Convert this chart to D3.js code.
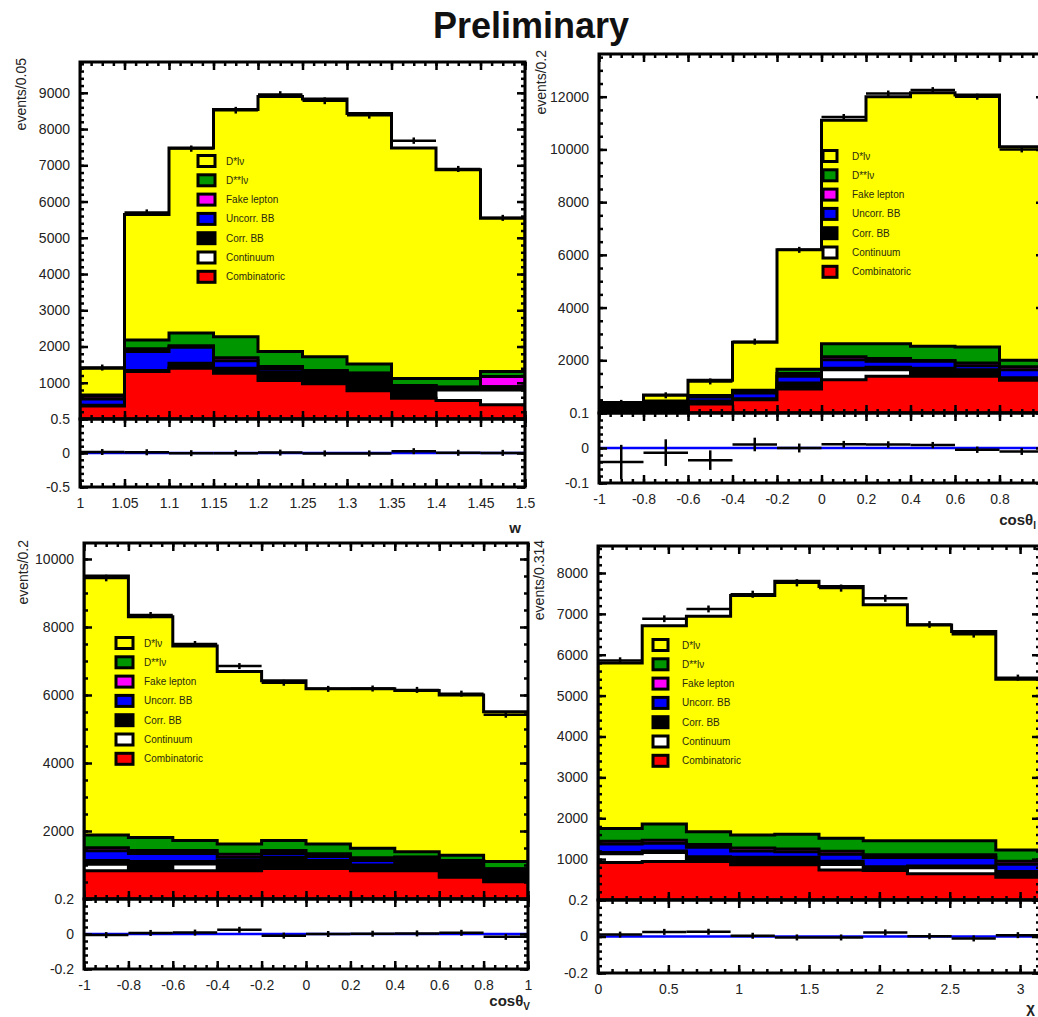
<!DOCTYPE html>
<html>
<head>
<meta charset="utf-8">
<script src="https://cdn.jsdelivr.net/npm/d3@7/dist/d3.min.js"></script>
<style>
  body { margin: 0; background: #fff; }
  svg { display: block; }
  text { font-family: "Liberation Sans", Arial, Helvetica, sans-serif; }
</style>
</head>
<body>
<svg id="chart" width="1038" height="1017"></svg>
<script>
// Stack components, bottom of the stack first
const components = ["comb", "cont", "corr", "uncorr", "fake", "dss", "ds"];
// Legend entries, top to bottom
const legendLabels = ["D*lν", "D**lν", "Fake lepton", "Uncorr. BB", "Corr. BB", "Continuum", "Combinatoric"];
const legendKeys = ["ds", "dss", "fake", "uncorr", "corr", "cont", "comb"];

// ---- w ----
const wEdges = [1.00, 1.05, 1.10, 1.15, 1.20, 1.25, 1.30, 1.35, 1.40, 1.45, 1.50];
const wTicks = [1, 1.05, 1.1, 1.15, 1.2, 1.25, 1.3, 1.35, 1.4, 1.45, 1.5];
const wYTicks = [1000, 2000, 3000, 4000, 5000, 6000, 7000, 8000, 9000];
const wComb   = [360, 1310, 1400, 1260, 1060, 970, 780, 570, 510, 390];
const wCont   = [0, 0, 0, 0, 0, 0, 0, 0, 290, 410];
const wCorr   = [20, 30, 140, 140, 220, 370, 480, 350, 75, 90];
const wUncorr = [170, 520, 440, 210, 90, 0, 0, 0, 0, 0];
const wFake   = [80, 80, 40, 80, 80, 0, 0, 0, 0, 280];
const wDss    = [30, 240, 350, 580, 410, 380, 260, 200, 245, 140];
const wDs     = [740, 3460, 5110, 6270, 7040, 7110, 6910, 6360, 5760, 4230];
const wData   = [1420, 5700, 7460, 8520, 8950, 8780, 8380, 7680, 6900, 5550];

// ---- cos theta_l ----
const clEdges = [-1, -0.8, -0.6, -0.4, -0.2, 0, 0.2, 0.4, 0.6, 0.8, 1];
const clTicks = [-1, -0.8, -0.6, -0.4, -0.2, 0, 0.2, 0.4, 0.6, 0.8, 1];
const clTickLabels = ["-1", "-0.8", "-0.6", "-0.4", "-0.2", "0", "0.2", "0.4", "0.6", "0.8", ""];
const clYTicks = [2000, 4000, 6000, 8000, 10000, 12000];
const clComb   = [60, 40, 340, 505, 910, 1260, 1390, 1390, 1390, 1240];
const clCont   = [0, 0, 0, 0, 0, 380, 250, 0, 0, 0];
const clCorr   = [220, 300, 115, 35, 230, 60, 100, 310, 250, 100];
const clUncorr = [40, 60, 150, 220, 250, 320, 220, 260, 150, 300];
const clFake   = [20, 30, 40, 60, 110, 110, 110, 30, 110, 110];
const clDss    = [20, 25, 20, 40, 160, 500, 560, 540, 600, 250];
const clDs     = [40, 225, 575, 1820, 4530, 8480, 9370, 9620, 9560, 8100];
const clData   = [384, 671, 1197, 2707, 6190, 11230, 12120, 12250, 12000, 10000];

// ---- cos theta_V ----
const cvEdges = [-1, -0.8, -0.6, -0.4, -0.2, 0, 0.2, 0.4, 0.6, 0.8, 1];
const cvTicks = [-1, -0.8, -0.6, -0.4, -0.2, 0, 0.2, 0.4, 0.6, 0.8, 1];
const cvTickLabels = ["-1", "-0.8", "-0.6", "-0.4", "-0.2", "0", "0.2", "0.4", "0.6", "0.8", "1"];
const cvYTicks = [2000, 4000, 6000, 8000, 10000];
const cvComb   = [830, 830, 830, 830, 900, 900, 830, 830, 640, 510];
const cvCont   = [190, 0, 200, 0, 0, 0, 0, 0, 0, 0];
const cvCorr   = [110, 270, 70, 300, 330, 230, 170, 400, 490, 370];
const cvUncorr = [290, 240, 240, 100, 110, 120, 130, 0, 0, 0];
const cvFake   = [85, 85, 85, 85, 85, 80, 85, 0, 0, 0];
const cvDss    = [375, 385, 295, 305, 295, 290, 275, 160, 160, 220];
const cvDs     = [7620, 6490, 5720, 5070, 4700, 4560, 4690, 4740, 4710, 4410];
const cvData   = [9440, 8350, 7500, 6850, 6360, 6180, 6190, 6150, 6040, 5420];

// ---- chi ----
const chEdges = d3.range(11).map(i => i * Math.PI / 10);
const chiTicks = [0, 0.5, 1, 1.5, 2, 2.5, 3];
const chiTickLabels = ["0", "0.5", "1", "1.5", "2", "2.5", "3"];
const chYTicks = [1000, 2000, 3000, 4000, 5000, 6000, 7000, 8000];
const chComb   = [915, 940, 940, 860, 860, 735, 720, 640, 640, 555];
const chCont   = [215, 220, 0, 0, 0, 135, 0, 150, 150, 0];
const chCorr   = [30, 40, 120, 185, 185, 80, 95, 40, 40, 140];
const chUncorr = [210, 190, 230, 155, 135, 170, 225, 210, 210, 180];
const chFake   = [70, 70, 70, 70, 70, 70, 70, 70, 70, 70];
const chDss    = [310, 400, 310, 320, 360, 320, 340, 340, 340, 280];
const chDs     = [4050, 4850, 5270, 5860, 6190, 6160, 5770, 5280, 5120, 4175];
const chData   = [5860, 6880, 7120, 7480, 7760, 7630, 7380, 6740, 6500, 5440];

const wTickLabels = ["1", "1.05", "1.1", "1.15", "1.2", "1.25", "1.3", "1.35", "1.4", "1.45", "1.5"];

// Residual axis ticks and labels
const ratioTicksW   = [-0.5, 0, 0.5];
const ratioLabelsW  = ["-0.5", "0", "0.5"];
const ratioTicksCl  = [-0.1, 0, 0.1];
const ratioLabelsCl = ["-0.1", "0", "0.1"];
const ratioTicksCv  = [-0.2, 0, 0.2];
const ratioLabelsCv = ["-0.2", "0", "0.2"];
const ratioTicksChi = [-0.2, 0, 0.2];
const ratioLabelsChi = ["-0.2", "0", "0.2"];

const fillColor = {
  comb: "#ff0000", cont: "#ffffff", corr: "#000000", uncorr: "#0000ff",
  fake: "#ff00ff", dss: "#009600", ds: "#ffff00"
};

const panels = [
  {
    edges: wEdges, series: [wComb, wCont, wCorr, wUncorr, wFake, wDss, wDs], data: wData,
    xTicks: wTicks, xLabels: wTickLabels, xMinor: 0.0125, yTicks: wYTicks, yMinor: 200,
    ratioTicks: ratioTicksW, ratioLabels: ratioLabelsW, ratioMinor: 0.1,
    x0: 80, x1: 525, top: 62, mid: 419, bot: 487, ymax: 9850,
    legend: { sx: 198, sw: 17, y0: 161, tx: 226 },
    yTitle: "events/0.05", yTitleX: 26, yTitleY: 58,
    xTitle: "w", xTitleSub: "", xTitleX: 521, xTitleY: 533
  },
  {
    edges: clEdges, series: [clComb, clCont, clCorr, clUncorr, clFake, clDss, clDs], data: clData,
    xTicks: clTicks, xLabels: clTickLabels, xMinor: 0.05, yTicks: clYTicks, yMinor: 500,
    ratioTicks: ratioTicksCl, ratioLabels: ratioLabelsCl, ratioMinor: 0.02,
    x0: 599, x1: 1044, top: 54, mid: 413, bot: 483, ymax: 13620,
    legend: { sx: 823, sw: 14, y0: 156, tx: 852 },
    yTitle: "events/0.2", yTitleX: 546, yTitleY: 50,
    xTitle: "cosθ", xTitleSub: "l", xTitleX: 1036, xTitleY: 525
  },
  {
    edges: cvEdges, series: [cvComb, cvCont, cvCorr, cvUncorr, cvFake, cvDss, cvDs], data: cvData,
    xTicks: cvTicks, xLabels: cvTickLabels, xMinor: 0.05, yTicks: cvYTicks, yMinor: 500,
    ratioTicks: ratioTicksCv, ratioLabels: ratioLabelsCv, ratioMinor: 0.04,
    x0: 84, x1: 528, top: 543, mid: 899, bot: 969, ymax: 10470,
    legend: { sx: 116, sw: 17, y0: 643, tx: 144 },
    yTitle: "events/0.2", yTitleX: 28, yTitleY: 540,
    xTitle: "cosθ", xTitleSub: "V", xTitleX: 530, xTitleY: 1006
  },
  {
    edges: chEdges, series: [chComb, chCont, chCorr, chUncorr, chFake, chDss, chDs], data: chData,
    xTicks: chiTicks, xLabels: chiTickLabels, xMinor: 0.1, yTicks: chYTicks, yMinor: 200,
    ratioTicks: ratioTicksChi, ratioLabels: ratioLabelsChi, ratioMinor: 0.04,
    x0: 598, x1: 1040, top: 546, mid: 900, bot: 973, ymax: 8660,
    legend: { sx: 653, sw: 15, y0: 645, tx: 682 },
    yTitle: "events/0.314", yTitleX: 544, yTitleY: 540,
    xTitle: "χ", xTitleSub: "", xTitleX: 1035, xTitleY: 1013
  }
];

const svg = d3.select("#chart");

svg.append("text")
  .attr("x", 531).attr("y", 38)
  .attr("text-anchor", "middle")
  .attr("font-size", 36).attr("font-weight", "bold")
  .attr("fill", "#111")
  .text("Preliminary");

const labelFormatter = (values, labels) => d => {
  const i = values.findIndex(v => Math.abs(v - d) < 1e-9);
  return i >= 0 ? labels[i] : "";
};

function drawTicks(g, axisGen, scale, values, size, fmt, pad) {
  const a = axisGen(scale).tickValues(values).tickSize(-size).tickPadding(pad)
    .tickFormat(fmt || "");
  const ag = g.append("g").call(a);
  ag.select(".domain").remove();
  ag.selectAll(".tick line").attr("stroke", "#000").attr("stroke-width", 2.5);
  ag.selectAll(".tick text")
    .attr("font-size", 14).attr("fill", "#222")
    .attr("font-family", "'Liberation Sans', Arial, sans-serif");
  return ag;
}

function minorValues(domain, step) {
  const lo = Math.min(domain[0], domain[1]), hi = Math.max(domain[0], domain[1]);
  const out = [];
  for (let v = Math.ceil(lo / step - 1e-9) * step; v <= hi + 1e-9; v += step) out.push(+v.toFixed(6));
  return out;
}

panels.forEach((p, pi) => {
  const g = svg.append("g");
  const nb = p.edges.length - 1;
  const x = d3.scaleLinear().domain([p.edges[0], p.edges[nb]]).range([p.x0, p.x1]);
  const y = d3.scaleLinear().domain([0, p.ymax]).range([p.mid, p.top]);
  const rmax = p.ratioTicks[2];
  const yr = d3.scaleLinear().domain([-rmax, rmax]).range([p.bot, p.mid]);

  const clipId = "clip" + pi;
  g.append("clipPath").attr("id", clipId)
    .append("rect").attr("x", p.x0).attr("y", p.top).attr("width", p.x1 - p.x0).attr("height", p.mid - p.top);
  const clipR = "clipr" + pi;
  g.append("clipPath").attr("id", clipR)
    .append("rect").attr("x", p.x0).attr("y", p.mid).attr("width", p.x1 - p.x0).attr("height", p.bot - p.mid);

  // stacked histogram, each cumulative layer filled from zero with its own outline
  const rows = d3.range(nb).map(i => {
    const r = {};
    components.forEach((k, j) => { r[k] = p.series[j][i]; });
    return r;
  });
  const stacked = d3.stack().keys(components)(rows);
  const line = d3.line().x(d => x(d[0])).y(d => y(d[1]));

  const hg = g.append("g").attr("clip-path", `url(#${clipId})`);
  for (let j = components.length - 1; j >= 0; j--) {
    const tops = stacked[j].map(d => d[1]);
    const pts = [[p.edges[0], 0]];
    tops.forEach((t, i) => { pts.push([p.edges[i], t]); pts.push([p.edges[i + 1], t]); });
    pts.push([p.edges[nb], 0]);
    hg.append("path")
      .attr("d", line(pts) + "Z")
      .attr("fill", fillColor[components[j]])
      .attr("stroke", "#000").attr("stroke-width", 3)
      .attr("stroke-linejoin", "miter");
  }

  // data points: bin-wide bar plus statistical error
  const dg = g.append("g").attr("clip-path", `url(#${clipId})`);
  p.data.forEach((d, i) => {
    const xa = x(p.edges[i]), xb = x(p.edges[i + 1]), xc = (xa + xb) / 2;
    const err = Math.sqrt(d);
    const ya = Math.min(y(d + err), y(d) - 3), yb = Math.max(y(d - err), y(d) + 3);
    dg.append("line").attr("x1", xa).attr("x2", xb).attr("y1", y(d)).attr("y2", y(d))
      .attr("stroke", "#000").attr("stroke-width", 2.5);
    dg.append("line").attr("x1", xc).attr("x2", xc).attr("y1", ya).attr("y2", yb)
      .attr("stroke", "#000").attr("stroke-width", 2.5);
  });

  // residual panel: (data - MC) / MC
  const rg = g.append("g").attr("clip-path", `url(#${clipR})`);
  rg.append("line").attr("x1", p.x0).attr("x2", p.x1).attr("y1", yr(0)).attr("y2", yr(0))
    .attr("stroke", "#0000ff").attr("stroke-width", 2.5);
  p.data.forEach((d, i) => {
    const mc = stacked[components.length - 1][i][1];
    const r = d / mc - 1;
    const e = Math.sqrt(d) / mc;
    const xa = x(p.edges[i]), xb = x(p.edges[i + 1]), xc = (xa + xb) / 2;
    const ya = Math.min(yr(r + e), yr(r) - 3), yb = Math.max(yr(r - e), yr(r) + 3);
    rg.append("line").attr("x1", xa).attr("x2", xb).attr("y1", yr(r)).attr("y2", yr(r))
      .attr("stroke", "#000").attr("stroke-width", 2.5);
    rg.append("line").attr("x1", xc).attr("x2", xc).attr("y1", ya).attr("y2", yb)
      .attr("stroke", "#000").attr("stroke-width", 2.5);
  });

  // legend
  const lg = g.append("g");
  legendKeys.forEach((k, i) => {
    const cy = p.legend.y0 + i * 19.3;
    lg.append("rect")
      .attr("x", p.legend.sx).attr("y", cy - 5.5)
      .attr("width", p.legend.sw).attr("height", 11)
      .attr("fill", fillColor[k]).attr("stroke", "#000").attr("stroke-width", 3);
    lg.append("text")
      .attr("x", p.legend.tx).attr("y", cy + 3.5)
      .attr("font-size", 10).attr("fill", "#2a2a10")
      .text(legendLabels[i]);
  });

  // axes ticks (inside, all four sides) for main and residual frames
  const xMin = minorValues(x.domain(), p.xMinor);
  const xFmt = labelFormatter(p.xTicks, p.xLabels);
  const yFmt = d3.format("d");
  const rFmt = labelFormatter(p.ratioTicks, p.ratioLabels);
  const frames = [
    { yScale: y, yTop: p.top, yBottom: p.mid, yMaj: p.yTicks, yMin: minorValues([0, p.ymax], p.yMinor), yFmt: yFmt, xFmt: null },
    { yScale: yr, yTop: p.mid, yBottom: p.bot, yMaj: p.ratioTicks, yMin: minorValues([-rmax, rmax], p.ratioMinor), yFmt: rFmt, xFmt: xFmt }
  ];
  frames.forEach(f => {
    const ag = g.append("g");
    drawTicks(ag.append("g").attr("transform", `translate(0,${f.yBottom})`), d3.axisBottom, x, xMin, 4, null, 0);
    drawTicks(ag.append("g").attr("transform", `translate(0,${f.yBottom})`), d3.axisBottom, x, p.xTicks, 8, f.xFmt, 11);
    drawTicks(ag.append("g").attr("transform", `translate(0,${f.yTop})`), d3.axisTop, x, xMin, 4, null, 0);
    drawTicks(ag.append("g").attr("transform", `translate(0,${f.yTop})`), d3.axisTop, x, p.xTicks, 8, null, 0);
    drawTicks(ag.append("g").attr("transform", `translate(${p.x0},0)`), d3.axisLeft, f.yScale, f.yMin, 4, null, 0);
    drawTicks(ag.append("g").attr("transform", `translate(${p.x0},0)`), d3.axisLeft, f.yScale, f.yMaj, 8, f.yFmt, 10);
    drawTicks(ag.append("g").attr("transform", `translate(${p.x1},0)`), d3.axisRight, f.yScale, f.yMin, 4, null, 0);
    drawTicks(ag.append("g").attr("transform", `translate(${p.x1},0)`), d3.axisRight, f.yScale, f.yMaj, 8, null, 0);
    ag.append("rect")
      .attr("x", p.x0).attr("y", f.yTop)
      .attr("width", p.x1 - p.x0).attr("height", f.yBottom - f.yTop)
      .attr("fill", "none").attr("stroke", "#000").attr("stroke-width", 3);
  });

  // axis titles
  g.append("text")
    .attr("transform", `translate(${p.yTitleX},${p.yTitleY}) rotate(-90)`)
    .attr("text-anchor", "end")
    .attr("font-size", 14).attr("fill", "#222")
    .text(p.yTitle);
  const xt = g.append("text")
    .attr("x", p.xTitleX).attr("y", p.xTitleY)
    .attr("text-anchor", "end")
    .attr("font-size", 15).attr("font-weight", "bold").attr("fill", "#222")
    .text(p.xTitle);
  if (p.xTitleSub) {
    xt.append("tspan").attr("dy", 4).attr("font-size", 10).text(p.xTitleSub);
  }
});
</script>
</body>
</html>
